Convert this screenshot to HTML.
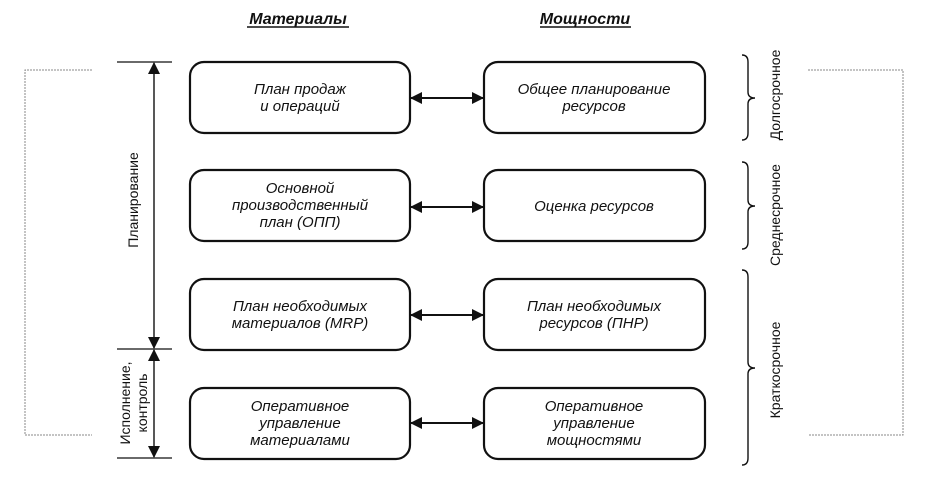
<!DOCTYPE html><html><head><meta charset="utf-8"><style>
body{margin:0;background:#fff}
svg text{font-family:"Liberation Sans",sans-serif;fill:#111}
</style></head><body>
<svg width="931" height="481" viewBox="0 0 931 481" xmlns="http://www.w3.org/2000/svg">
<defs><marker id="a" markerWidth="12" markerHeight="12" refX="11" refY="6" orient="auto-start-reverse" markerUnits="userSpaceOnUse"><path d="M0,0 L12,6 L0,12 z" fill="#111"/></marker></defs>
<g font-size="16" font-weight="bold" font-style="italic" text-anchor="middle">
<text x="298" y="24">Материалы</text>
<text x="585" y="24">Мощности</text></g>
<line x1="247" y1="27" x2="349" y2="27" stroke="#111" stroke-width="1.5"/>
<line x1="540" y1="27" x2="631" y2="27" stroke="#111" stroke-width="1.5"/>
<g fill="none" stroke="#888" stroke-width="1" stroke-dasharray="2,1">
<path d="M92,70 H25 V435 H92"/><path d="M808,70 H903 V435 H808"/></g>
<g fill="#fff" stroke="#111" stroke-width="2.2">
<rect x="190" y="62" width="220" height="71" rx="14"/><rect x="484" y="62" width="221" height="71" rx="14"/>
<rect x="190" y="170" width="220" height="71" rx="14"/><rect x="484" y="170" width="221" height="71" rx="14"/>
<rect x="190" y="279" width="220" height="71" rx="14"/><rect x="484" y="279" width="221" height="71" rx="14"/>
<rect x="190" y="388" width="220" height="71" rx="14"/><rect x="484" y="388" width="221" height="71" rx="14"/></g>
<g stroke="#111" stroke-width="2" marker-start="url(#a)" marker-end="url(#a)">
<line x1="411" y1="98" x2="483" y2="98"/><line x1="411" y1="207" x2="483" y2="207"/>
<line x1="411" y1="315" x2="483" y2="315"/><line x1="411" y1="423" x2="483" y2="423"/></g>
<g stroke="#111" stroke-width="1.2">
<line x1="117" y1="62" x2="172" y2="62"/><line x1="117" y1="349" x2="172" y2="349"/><line x1="117" y1="458" x2="172" y2="458"/></g>
<g stroke="#111" stroke-width="1.4" marker-start="url(#a)" marker-end="url(#a)">
<line x1="154" y1="63" x2="154" y2="348"/><line x1="154" y1="350" x2="154" y2="457"/></g>
<g font-size="15" font-style="italic" text-anchor="middle">
<text x="300" y="94">План продаж</text><text x="300" y="111">и операций</text>
<text x="594" y="94">Общее планирование</text><text x="594" y="111">ресурсов</text>
<text x="300" y="193">Основной</text><text x="300" y="210">производственный</text><text x="300" y="227">план (ОПП)</text>
<text x="594" y="211">Оценка ресурсов</text>
<text x="300" y="311">План необходимых</text><text x="300" y="328">материалов (MRP)</text>
<text x="594" y="311">План необходимых</text><text x="594" y="328">ресурсов (ПНР)</text>
<text x="300" y="411">Оперативное</text><text x="300" y="428">управление</text><text x="300" y="445">материалами</text>
<text x="594" y="411">Оперативное</text><text x="594" y="428">управление</text><text x="594" y="445">мощностями</text></g>
<g font-size="14" text-anchor="middle">
<text transform="translate(138,200) rotate(-90)">Планирование</text>
<text transform="translate(130,403) rotate(-90)">Исполнение,</text>
<text transform="translate(147,403) rotate(-90)">контроль</text>
<text transform="translate(780,95) rotate(-90)">Долгосрочное</text>
<text transform="translate(780,215) rotate(-90)">Среднесрочное</text>
<text transform="translate(780,370) rotate(-90)">Краткосрочное</text></g>
<g fill="none" stroke="#111" stroke-width="1.4">
<path d="M742,55 Q748,55 748,62 V92 Q748,98 755,98 Q748,98 748,104 V133 Q748,140 742,140"/>
<path d="M742,162 Q748,162 748,169 V200 Q748,206 755,206 Q748,206 748,212 V242 Q748,249 742,249"/>
<path d="M742,270 Q748,270 748,277 V362 Q748,368 755,368 Q748,368 748,374 V458 Q748,465 742,465"/></g>
</svg></body></html>
